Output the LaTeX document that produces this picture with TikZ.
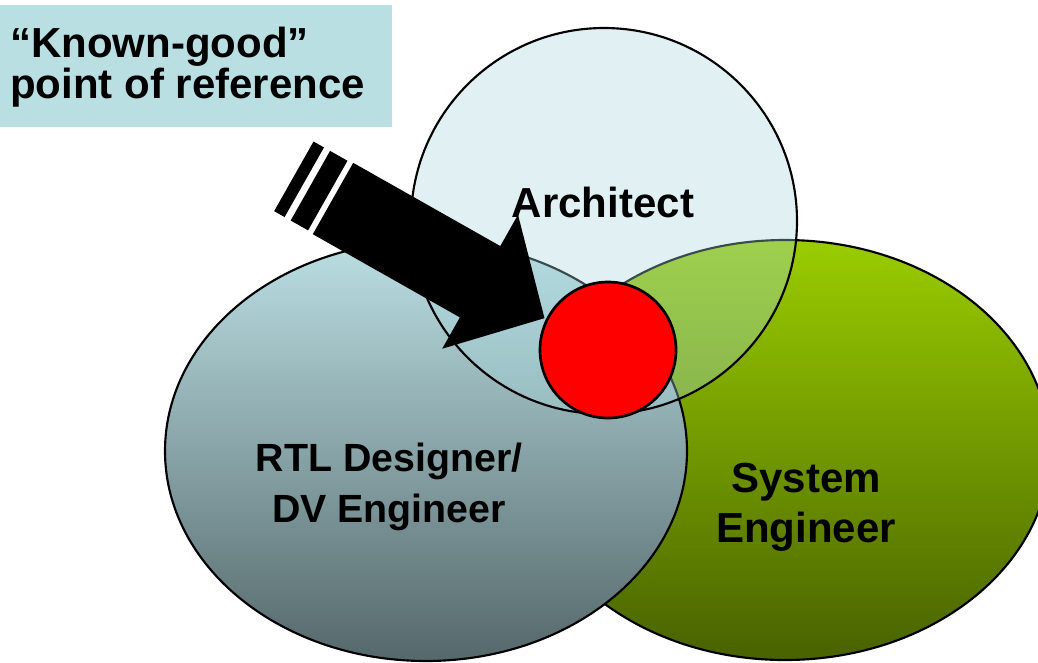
\documentclass[tikz,border=0pt]{standalone}
\usepackage{fontspec}
\setmainfont{Liberation Sans}
\definecolor{boxblue}{HTML}{B9DFE3}
\definecolor{greenT}{HTML}{9ACD00}
\definecolor{greenB}{HTML}{486200}
\definecolor{rtlT}{HTML}{BBDFE3}
\definecolor{rtlM}{HTML}{96B3B6}
\definecolor{rtlB}{HTML}{55686B}
\definecolor{archfill}{HTML}{A8D8DE}
\begin{document}
\begin{tikzpicture}[x=0.75pt,y=-0.75pt,
  lab/.style={font=\bfseries\fontsize{31.5}{37.5}\selectfont, inner sep=0pt, align=center, text=black},
  venn/.style={draw=black, line width=1.6pt}]
\useasboundingbox (0,0) rectangle (1038,662);
\begin{scope}
\clip (0,0) rectangle (1038,662);
% System engineer (bottom layer)
\path[venn, top color=greenT, bottom color=greenB] (785,450) ellipse [x radius=198.75pt, y radius=157.5pt];
% RTL designer
\path[venn, top color=rtlT, middle color=rtlM, bottom color=rtlB] (426,451) ellipse [x radius=195.75pt, y radius=157.5pt];
% Architect (translucent)
\path[venn, fill=archfill, fill opacity=0.35] (604,221) circle [radius=144.75pt];
\end{scope}
% block arrow
\begin{scope}[shift={(333,198.5)}, rotate=-29.5]
\fill[black] (0,-41) -- (169,-41) -- (169,-77) -- (243,0) -- (169,77) -- (169,41) -- (0,41) -- cycle;
\fill[black] (-26,-40) rectangle (-6,40);
\fill[black] (-45,-40) rectangle (-33,40);
\end{scope}
% known-good point
\path[draw=black, line width=2pt, fill=red] (608,350) circle [radius=51pt];
% labels
\node[lab, anchor=base] (arch) at (603,217) {Architect};
\node[lab, font=\bfseries\fontsize{29.5}{38.25}\selectfont, anchor=base] (rtl) at (389,522) {RTL Designer/\\DV Engineer};
\node[lab, anchor=base] (sys) at (806,542) {System\\Engineer};
% reference box
\fill[boxblue] (0,5) rectangle (392,127);
\node[lab, align=left, anchor=base west, font=\bfseries\fontsize{31.5}{29.25}\selectfont] (ref) at (10,98) {“Known-good”\\point of reference};
\end{tikzpicture}
\end{document}
